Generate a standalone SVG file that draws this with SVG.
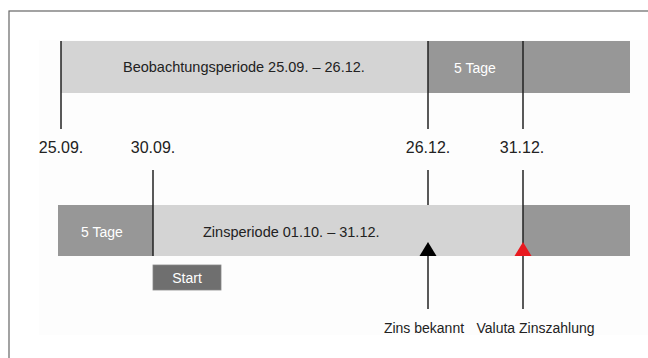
<svg xmlns="http://www.w3.org/2000/svg" width="648" height="358" viewBox="0 0 648 358">
<style>
.t{font-family:"Liberation Sans",Arial,sans-serif;fill:#222}
.d{font-size:16px;text-anchor:middle}
.l{font-size:14.5px}
.w{font-family:"Liberation Sans",Arial,sans-serif;fill:#fff;font-size:14px;text-anchor:middle}
.lt{fill:#d4d4d4}
.dk{fill:#979797}
.ln{stroke:#222;stroke-width:1.5;fill:none}
</style>
<rect x="0" y="0" width="648" height="358" fill="#fff"/>
<rect x="39" y="40" width="620" height="295" fill="#fdfdfd"/>
<rect x="9" y="11" width="660" height="360" fill="none" stroke="#666" stroke-width="1.2"/>
<g id="beobachtung">
<rect class="lt" x="61" y="41" width="367" height="52"/>
<text class="t l" x="123" y="72">Beobachtungsperiode 25.09. – 26.12.</text>
</g>
<g id="tage-oben">
<rect class="dk" x="428" y="41" width="202" height="52"/>
<text class="w" x="475" y="73">5 Tage</text>
</g>
<g id="tage-unten">
<rect class="dk" x="58" y="205" width="95" height="51"/>
<text class="w" x="102" y="237">5 Tage</text>
</g>
<g id="zinsperiode">
<rect class="lt" x="153" y="205" width="370" height="51"/>
<text class="t l" x="203" y="237">Zinsperiode 01.10. – 31.12.</text>
</g>
<g id="rest-unten">
<rect class="dk" x="523" y="205" width="107" height="51"/>
</g>
<g id="start">
<rect x="153" y="265" width="68" height="25" fill="#6f6f6f" stroke="#888" stroke-width="0.8"/>
<text class="w" x="187" y="283">Start</text>
</g>
<g id="daten">
<text class="t d" x="61" y="153">25.09.</text>
<text class="t d" x="153" y="153">30.09.</text>
<text class="t d" x="428" y="153">26.12.</text>
<text class="t d" x="522" y="153">31.12.</text>
</g>
<g id="connectors">
<line class="ln" x1="61" y1="41" x2="61" y2="129"/>
<line class="ln" x1="428" y1="41" x2="428" y2="129"/>
<line class="ln" x1="523" y1="41" x2="523" y2="129"/>
<line class="ln" x1="153" y1="170" x2="153" y2="256"/>
<line class="ln" x1="428" y1="170" x2="428" y2="205"/>
<line class="ln" x1="428" y1="252" x2="428" y2="309"/>
<polygon points="428,242 419.5,256 436.5,256" fill="#000"/>
<line class="ln" x1="523" y1="170" x2="523" y2="309"/>
<polygon points="523,242 514.5,256 531.5,256" fill="#e8191f"/>
</g>
<g id="labels">
<text class="t" x="424" y="333" font-size="14" text-anchor="middle">Zins bekannt</text>
<text class="t" x="535.5" y="333" font-size="14" text-anchor="middle">Valuta Zinszahlung</text>
</g>
</svg>
